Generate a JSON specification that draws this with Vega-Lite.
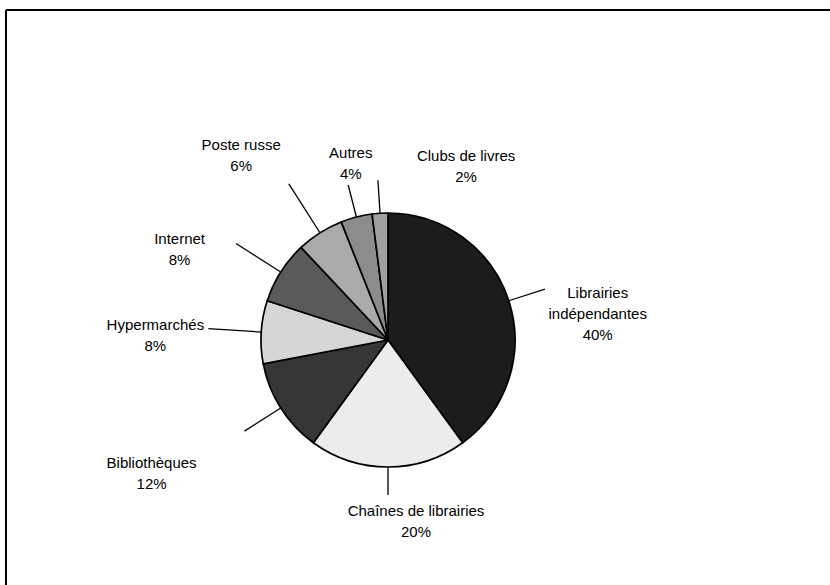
{
  "$schema": "https://vega.github.io/schema/vega-lite/v6.json",
  "width": 824,
  "height": 660,
  "autosize": {"type": "none"},
  "padding": {"left": 6, "top": 10, "right": 0, "bottom": -85},
  "background": "white",
  "view": {"stroke": null},
  "config": {
    "view": {"stroke": null},
    "text": {"font": "Liberation Sans"}
  },
  "data": {
    "values": [
      {"categorie": "Librairies indépendantes", "part": 40, "etiquette": "Librairies|indépendantes|40%", "rang": 1},
      {"categorie": "Chaînes de librairies", "part": 20, "etiquette": "Chaînes de librairies|20%", "rang": 2},
      {"categorie": "Bibliothèques", "part": 12, "etiquette": "Bibliothèques|12%", "rang": 3},
      {"categorie": "Hypermarchés", "part": 8, "etiquette": "Hypermarchés|8%", "rang": 4},
      {"categorie": "Internet", "part": 8, "etiquette": "Internet|8%", "rang": 5},
      {"categorie": "Poste russe", "part": 6, "etiquette": "Poste russe|6%", "rang": 6},
      {"categorie": "Autres", "part": 4, "etiquette": "Autres|4%", "rang": 7},
      {"categorie": "Clubs de livres", "part": 2, "etiquette": "Clubs de livres|2%", "rang": 8}
    ]
  },
  "layer": [
    {
      "mark": {"type": "rule", "color": "black", "strokeWidth": 2},
      "encoding": {"y": {"value": 0}}
    },
    {
      "mark": {"type": "rule", "color": "black", "strokeWidth": 2},
      "encoding": {"x": {"value": 0}}
    },
    {
      "mark": {"type": "arc", "x": {"expr": "width/2-30"}, "outerRadius": 127, "stroke": "black", "strokeWidth": 1.7},
      "encoding": {
        "theta": {"field": "part", "type": "quantitative", "stack": true},
        "order": {"field": "rang", "type": "quantitative"},
        "color": {
          "field": "categorie",
          "type": "nominal",
          "scale": {
            "domain": ["Librairies indépendantes", "Chaînes de librairies", "Bibliothèques", "Hypermarchés", "Internet", "Poste russe", "Autres", "Clubs de livres"],
            "range": ["#1c1c1c", "#ececec", "#363636", "#d6d6d6", "#5a5a5a", "#aaaaaa", "#8c8c8c", "#a0a0a0"]
          },
          "legend": null
        }
      }
    },
    {
      "mark": {
        "type": "arc",
        "x": {"expr": "width/2-30"},
        "radius": {"expr": "datum.rang==1?165:datum.rang==2?155:datum.rang==3?170:datum.rang==4?180:datum.rang==5?180:datum.rang==6?185:160"},
        "radius2": 127,
        "padAngle": 3,
        "stroke": "black",
        "strokeWidth": 1.3,
        "fill": null
      },
      "encoding": {
        "theta": {"field": "part", "type": "quantitative", "stack": true},
        "order": {"field": "rang", "type": "quantitative"},
        "detail": {"field": "categorie", "type": "nominal"}
      }
    },
    {
      "mark": {
        "type": "text",
        "x": {"expr": "width/2-30"},
        "fontSize": 15,
        "lineBreak": "|",
        "lineHeight": 21,
        "color": "black",
        "dx": {"expr": "datum.rang==1?29:datum.rang==2?28:datum.rang==3?-76:datum.rang==4?-43:datum.rang==5?-48:datum.rang==6?-45:datum.rang==7?10:90"},
        "dy": {"expr": "datum.rang==1?12:datum.rang==2?-19:datum.rang==3?21:datum.rang==4?-3:datum.rang==5?1:datum.rang==6?-35:datum.rang==7?-3:6"}
      },
      "encoding": {
        "theta": {"field": "part", "type": "quantitative", "stack": true},
        "order": {"field": "rang", "type": "quantitative"},
        "detail": {"field": "categorie", "type": "nominal"},
        "radius": {"value": 190},
        "text": {"field": "etiquette", "type": "nominal"}
      }
    }
  ]
}
